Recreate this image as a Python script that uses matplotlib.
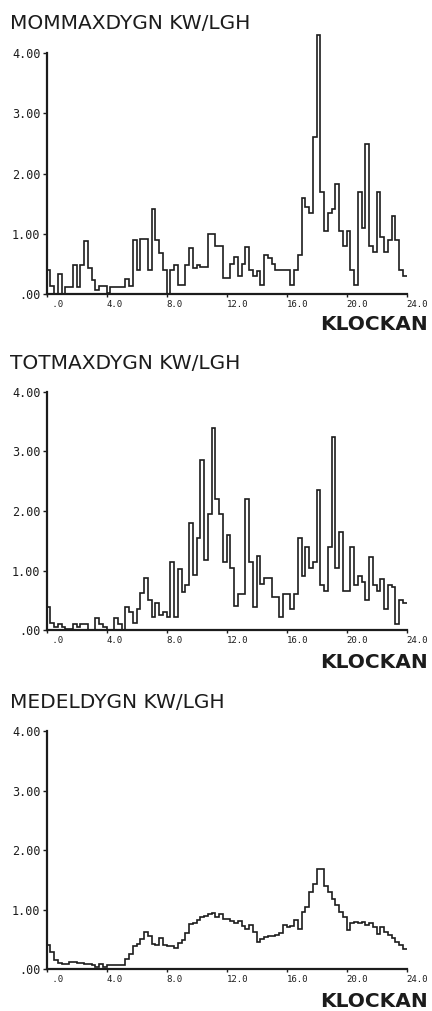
import numpy as np
import matplotlib.pyplot as plt

# kW per apartment, 15-minute steps over the day (0-24 h)
STEP_H = 0.25

mommax = [0.40, 0.14, 0.00, 0.33, 0.00, 0.12, 0.12, 0.48, 0.12, 0.49,
          0.88, 0.43, 0.23, 0.07, 0.14, 0.14, 0.01, 0.12, 0.12, 0.12,
          0.12, 0.25, 0.14, 0.90, 0.40, 0.92, 0.92, 0.40, 1.42, 0.90,
          0.68, 0.40, 0.00, 0.40, 0.49, 0.15, 0.15, 0.48, 0.76, 0.43,
          0.48, 0.45, 0.45, 1.00, 1.00, 0.79, 0.79, 0.26, 0.26, 0.50,
          0.62, 0.30, 0.50, 0.78, 0.40, 0.30, 0.38, 0.15, 0.65, 0.60,
          0.50, 0.40, 0.40, 0.40, 0.40, 0.15, 0.40, 0.65, 1.60, 1.45,
          1.35, 2.60, 4.30, 1.70, 1.05, 1.35, 1.42, 1.82, 1.05, 0.80,
          1.05, 0.40, 0.15, 1.70, 1.10, 2.50, 0.80, 0.70, 1.70, 0.95,
          0.70, 0.90, 1.30, 0.90, 0.40, 0.30]

totmax = [0.38, 0.12, 0.05, 0.10, 0.05, 0.02, 0.02, 0.10, 0.05, 0.10,
          0.10, 0.00, 0.00, 0.20, 0.10, 0.05, 0.00, 0.00, 0.20, 0.10,
          0.00, 0.38, 0.30, 0.12, 0.35, 0.62, 0.88, 0.50, 0.22, 0.45,
          0.25, 0.30, 0.22, 1.14, 0.22, 1.02, 0.64, 0.75, 1.80, 0.92,
          1.55, 2.86, 1.18, 1.95, 3.40, 2.20, 1.95, 1.15, 1.60, 1.05,
          0.40, 0.60, 0.60, 2.20, 1.15, 0.38, 1.25, 0.78, 0.87, 0.87,
          0.55, 0.55, 0.22, 0.60, 0.60, 0.35, 0.60, 1.55, 0.90, 1.40,
          1.05, 1.15, 2.35, 0.75, 0.65, 1.40, 3.25, 1.05, 1.65, 0.65,
          0.65, 1.40, 0.75, 0.90, 0.80, 0.50, 1.22, 0.75, 0.65, 0.85,
          0.35, 0.75, 0.72, 0.10, 0.50, 0.45]

medel = [0.40, 0.28, 0.15, 0.10, 0.08, 0.08, 0.11, 0.11, 0.10, 0.10,
         0.08, 0.08, 0.06, 0.03, 0.08, 0.03, 0.07, 0.06, 0.06, 0.06,
         0.06, 0.16, 0.25, 0.38, 0.42, 0.50, 0.63, 0.55, 0.42, 0.40,
         0.52, 0.40, 0.39, 0.39, 0.36, 0.43, 0.49, 0.60, 0.75, 0.78,
         0.82, 0.88, 0.90, 0.93, 0.95, 0.87, 0.92, 0.85, 0.85, 0.80,
         0.77, 0.80, 0.72, 0.68, 0.74, 0.62, 0.46, 0.50, 0.54, 0.56,
         0.56, 0.58, 0.61, 0.74, 0.70, 0.72, 0.82, 0.68, 0.96, 1.04,
         1.29, 1.43, 1.68, 1.68, 1.40, 1.29, 1.18, 1.07, 0.96, 0.88,
         0.66, 0.77, 0.79, 0.77, 0.79, 0.74, 0.77, 0.70, 0.59, 0.71,
         0.63, 0.57, 0.53, 0.46, 0.40, 0.34]

titles = ["MOMMAXDYGN KW/LGH", "TOTMAXDYGN KW/LGH", "MEDELDYGN KW/LGH"]
xticks = [0, 4, 8, 12, 16, 20, 24]
xticklabels = [" .0", "4.0", "8.0", "12.0", "16.0", "20.0", "24.0"]
yticks = [0, 1, 2, 3, 4]
yticklabels = [".00", "1.00", "2.00", "3.00", "4.00"]

W, H = 432, 1011
ink = "#1c1c1c"

# pixel layout: axis baseline, px per unit, title baseline, KLOCKAN baseline
layout = [
    (294, 60.2, 29, 330),
    (630, 59.5, 369, 668),
    (969, 59.4, 708, 1007),
]

fig = plt.figure(figsize=(W / 100, H / 100), dpi=100)

for title, vals, (base, ppu, tbase, kbase) in zip(titles, [mommax, totmax, medel], layout):
    ymax = 4.4
    ax = fig.add_axes([46.7 / W, (H - base) / H, 360 / W, ymax * ppu / H])
    ax.set_facecolor("none")
    edges = np.arange(len(vals) + 1) * STEP_H
    ax.stairs(vals, edges, baseline=None, color=ink, linewidth=1.2)
    ax.set_xlim(0, 24)
    ax.set_ylim(0, ymax)

    for s in ["top", "right"]:
        ax.spines[s].set_visible(False)
    ax.spines["left"].set_bounds(0, 4)
    ax.spines["bottom"].set_bounds(0, 24)
    for s in ["left", "bottom"]:
        ax.spines[s].set_linewidth(1.6)
        ax.spines[s].set_color(ink)

    ax.set_yticks(yticks, yticklabels, fontfamily="DejaVu Sans Mono", fontsize=8.5, color=ink)
    ax.set_xticks(xticks, xticklabels, fontfamily="DejaVu Sans Mono", fontsize=6.5, color=ink)
    for lab in ax.get_xticklabels():
        lab.set_horizontalalignment("left")
    ax.tick_params(axis="y", direction="out", length=3, width=1.0, pad=1.5, colors=ink)
    ax.tick_params(axis="x", direction="out", length=2.5, width=1.0, pad=1.5, colors=ink)

    fig.text(10 / W, 1 - tbase / H, title, fontsize=14.5, color=ink,
             ha="left", va="baseline")
    fig.text(428 / W, 1 - kbase / H, "KLOCKAN", fontsize=14.5, fontweight="bold",
             color=ink, ha="right", va="baseline")

fig.savefig("out.png", dpi=100)
